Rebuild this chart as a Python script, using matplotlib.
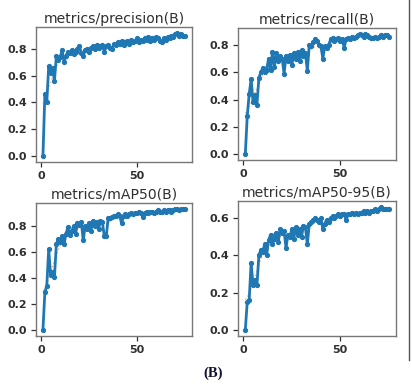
#import library
import matplotlib
matplotlib.use("Agg")
import matplotlib.pyplot as plt
from matplotlib.lines import Line2D
from matplotlib.ticker import MultipleLocator, FormatStrFormatter
import numpy as np

#define datasets (one value per epoch)
precision = [0.00, 0.46, 0.40, 0.67, 0.62, 0.66, 0.56, 0.75, 0.72, 0.74,
             0.79, 0.70, 0.75, 0.78, 0.77, 0.79, 0.76, 0.78, 0.80, 0.82,
             0.77, 0.75, 0.79, 0.80, 0.78, 0.81, 0.82, 0.80, 0.83, 0.81,
             0.82, 0.83, 0.78, 0.82, 0.83, 0.81, 0.80, 0.84, 0.83, 0.85,
             0.84, 0.86, 0.83, 0.85, 0.86, 0.84, 0.87, 0.85, 0.86, 0.88,
             0.85, 0.87, 0.86, 0.88, 0.87, 0.89, 0.86, 0.88, 0.87, 0.89,
             0.88, 0.86, 0.85, 0.88, 0.87, 0.89, 0.88, 0.90, 0.89, 0.91,
             0.92, 0.90, 0.91, 0.90, 0.90]

recall = [0.00, 0.28, 0.44, 0.55, 0.38, 0.43, 0.36, 0.56, 0.60, 0.63,
          0.60, 0.62, 0.70, 0.62, 0.75, 0.64, 0.74, 0.68, 0.72, 0.70,
          0.59, 0.72, 0.68, 0.73, 0.65, 0.74, 0.70, 0.75, 0.68, 0.76,
          0.72, 0.74, 0.61, 0.80, 0.79, 0.82, 0.84, 0.83, 0.80, 0.79,
          0.70, 0.79, 0.78, 0.80, 0.84, 0.85, 0.83, 0.84, 0.85, 0.83,
          0.84, 0.78, 0.84, 0.85, 0.84, 0.86, 0.85, 0.86, 0.87, 0.88,
          0.87, 0.86, 0.88, 0.87, 0.86, 0.85, 0.85, 0.86, 0.85, 0.86,
          0.87, 0.86, 0.87, 0.87, 0.86]

map50 = [0.00, 0.29, 0.34, 0.62, 0.42, 0.45, 0.41, 0.66, 0.70, 0.68,
         0.72, 0.66, 0.74, 0.79, 0.73, 0.76, 0.80, 0.74, 0.82, 0.81,
         0.83, 0.69, 0.80, 0.78, 0.82, 0.76, 0.84, 0.80, 0.83, 0.78,
         0.84, 0.83, 0.72, 0.72, 0.86, 0.86, 0.87, 0.88, 0.88, 0.89,
         0.88, 0.82, 0.88, 0.89, 0.88, 0.89, 0.90, 0.89, 0.90, 0.90,
         0.91, 0.90, 0.87, 0.90, 0.91, 0.90, 0.91, 0.91, 0.90, 0.91,
         0.92, 0.91, 0.91, 0.92, 0.91, 0.92, 0.92, 0.91, 0.92, 0.93,
         0.93, 0.92, 0.93, 0.93, 0.93]

map50_95 = [0.00, 0.15, 0.16, 0.36, 0.24, 0.27, 0.24, 0.40, 0.43, 0.42,
            0.46, 0.40, 0.48, 0.51, 0.46, 0.49, 0.52, 0.47, 0.54, 0.52,
            0.53, 0.44, 0.51, 0.50, 0.54, 0.49, 0.55, 0.51, 0.54, 0.50,
            0.56, 0.55, 0.46, 0.57, 0.58, 0.59, 0.60, 0.59, 0.58, 0.60,
            0.54, 0.57, 0.59, 0.58, 0.60, 0.61, 0.60, 0.61, 0.62, 0.61,
            0.62, 0.62, 0.59, 0.62, 0.62, 0.63, 0.62, 0.63, 0.62, 0.63,
            0.63, 0.64, 0.63, 0.64, 0.63, 0.64, 0.64, 0.65, 0.64, 0.65,
            0.66, 0.65, 0.65, 0.65, 0.65]

titles = ["metrics/precision(B)", "metrics/recall(B)",
          "metrics/mAP50(B)", "metrics/mAP50-95(B)"]
series = [precision, recall, map50, map50_95]


#gaussian smoothing like the training plots
def smooth(y, sigma=3):
    y = np.asarray(y, dtype=float)
    r = int(4 * sigma + 0.5)
    k = np.exp(-0.5 * (np.arange(-r, r + 1) / sigma) ** 2)
    k /= k.sum()
    yp = np.pad(y, r, mode="symmetric")
    return np.convolve(yp, k, mode="valid")


#define fig and axes positions
fig = plt.figure(figsize=(4.12, 3.84), dpi=100)
boxes = [
    [0.087, 0.578, 0.379, 0.352],
    [0.578, 0.583, 0.383, 0.344],
    [0.087, 0.125, 0.379, 0.346],
    [0.578, 0.125, 0.383, 0.352],
]

text_color = "#303030"
for box, title, y in zip(boxes, titles, series):
    ax = fig.add_axes(box)
    x = np.arange(1, len(y) + 1)
    ax.plot(x, smooth(y), ":", color="#ff7f0e", linewidth=1.0, alpha=0.6)
    ax.plot(x, y, marker=".", color="#1f77b4", linewidth=2.0, markersize=5.5)
    ax.set_title(title, fontsize=10.1, color=text_color, pad=3)
    ax.set_xticks([0, 50])
    ax.yaxis.set_major_locator(MultipleLocator(0.2))
    ax.yaxis.set_major_formatter(FormatStrFormatter("%.1f"))
    ax.tick_params(labelsize=8, colors=text_color, length=3.5, width=0.9,
                   pad=3)
    for lab in ax.get_xticklabels() + ax.get_yticklabels():
        lab.set_fontweight("semibold")
    for s in ax.spines.values():
        s.set_color("#777777")
        s.set_linewidth(1.0)

#frame line on the right edge
fig.add_artist(Line2D([0.993, 0.993], [0.062, 1.0], color="#555555",
                      linewidth=1.0, transform=fig.transFigure))

#caption
fig.text(0.517, 0.028, "(B)", ha="center", va="center", fontsize=10.5,
         fontweight="bold", family="Liberation Serif", color="#111133")

#save
fig.savefig("out.png", dpi=100)
